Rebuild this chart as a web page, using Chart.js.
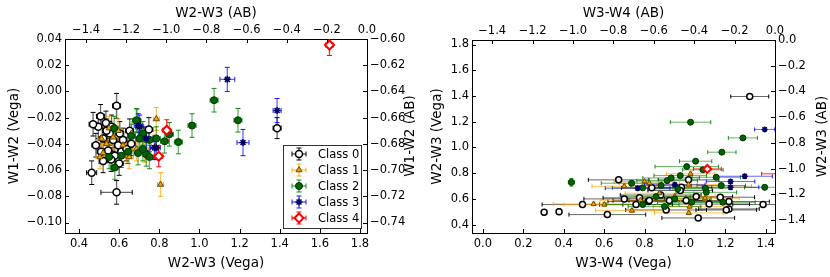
<!DOCTYPE html>
<html>
<head>
<meta charset="utf-8">
<script src="https://cdn.jsdelivr.net/npm/chart.js@4.4.1/dist/chart.umd.min.js"></script>
<style>
  html, body { margin: 0; padding: 0; background: #fff; }
  #wrap { position: relative; width: 830px; height: 277px; }
  #wrap canvas { position: absolute; top: 0; }
</style>
</head>
<body>
<div id="wrap">
  <canvas id="painelEsq" width="415" height="277" style="left:0"></canvas>
  <canvas id="painelDir" width="415" height="277" style="left:415px"></canvas>
</div>
<script>
// each point: [x, y, xerr, yerr]
const classNames = ['Class 0', 'Class 1', 'Class 2', 'Class 3', 'Class 4'];

// left panel: W2-W3 (Vega) vs W1-W2 (Vega)
const left0 = [
  [0.463, -0.062, 0.025, 0.009], [0.587, -0.077, 0.078, 0.009], [0.587, -0.011, 0.02, 0.0095],
  [0.507, -0.019, 0.02, 0.009], [0.484, -0.041, 0.02, 0.009], [0.520, -0.053, 0.02, 0.009],
  [0.496, -0.027, 0.02, 0.009], [0.534, -0.024, 0.02, 0.009], [0.748, -0.029, 0.02, 0.009],
  [1.387, -0.028, 0.02, 0.008], [0.553, -0.032, 0.02, 0.009], [0.570, -0.037, 0.02, 0.009],
  [0.595, -0.041, 0.02, 0.009], [0.611, -0.046, 0.02, 0.009], [0.578, -0.049, 0.02, 0.009],
  [0.545, -0.045, 0.02, 0.009], [0.619, -0.037, 0.02, 0.009], [0.636, -0.044, 0.02, 0.009],
  [0.603, -0.032, 0.02, 0.009], [0.537, -0.030, 0.02, 0.009], [0.562, -0.027, 0.02, 0.009],
  [0.652, -0.030, 0.02, 0.009], [0.470, -0.025, 0.02, 0.009], [0.520, -0.036, 0.02, 0.009],
  [0.600, -0.055, 0.02, 0.009], [0.560, -0.052, 0.02, 0.009], [0.660, -0.040, 0.02, 0.009],
  [0.510, -0.046, 0.02, 0.009]
];
const left1 = [
  [0.785, -0.021, 0.015, 0.0087], [0.806, -0.071, 0.015, 0.009], [0.512, -0.036, 0.02, 0.009],
  [0.537, -0.040, 0.02, 0.009], [0.570, -0.035, 0.02, 0.009], [0.595, -0.030, 0.02, 0.009],
  [0.619, -0.041, 0.02, 0.009], [0.686, -0.044, 0.02, 0.009], [0.710, -0.037, 0.02, 0.009],
  [0.636, -0.046, 0.02, 0.009], [0.520, -0.047, 0.02, 0.009], [0.661, -0.032, 0.02, 0.009],
  [0.727, -0.045, 0.02, 0.009], [0.504, -0.050, 0.02, 0.009], [0.550, -0.028, 0.02, 0.009],
  [0.650, -0.050, 0.02, 0.009], [0.780, -0.042, 0.02, 0.009]
];
const left2 = [
  [1.073, -0.0067, 0.02, 0.009], [1.192, -0.022, 0.02, 0.009], [0.963, -0.026, 0.02, 0.009],
  [0.895, -0.0386, 0.02, 0.009], [0.850, -0.0327, 0.02, 0.009], [0.578, -0.058, 0.02, 0.009],
  [0.689, -0.0225, 0.02, 0.009], [0.575, -0.028, 0.02, 0.009], [0.550, -0.050, 0.02, 0.009],
  [0.661, -0.034, 0.02, 0.009], [0.718, -0.032, 0.02, 0.009], [0.751, -0.037, 0.02, 0.009],
  [0.694, -0.047, 0.02, 0.009], [0.644, -0.046, 0.02, 0.009], [0.611, -0.049, 0.02, 0.009],
  [0.735, -0.048, 0.02, 0.009], [0.785, -0.036, 0.02, 0.009], [0.702, -0.036, 0.02, 0.009],
  [0.686, -0.022, 0.02, 0.009], [0.826, -0.038, 0.02, 0.009], [0.751, -0.050, 0.02, 0.009],
  [0.718, -0.044, 0.02, 0.009]
];
const left3 = [
  [1.139, 0.0092, 0.037, 0.0092], [1.387, -0.0146, 0.02, 0.0092], [1.217, -0.039, 0.03, 0.010],
  [0.695, -0.026, 0.02, 0.009], [0.785, -0.043, 0.02, 0.009], [0.776, -0.043, 0.02, 0.009],
  [0.735, -0.036, 0.02, 0.009], [0.702, -0.027, 0.02, 0.009]
];
const left4 = [
  [1.648, 0.0354, 0.02, 0.008], [0.837, -0.0296, 0.02, 0.008], [0.797, -0.0495, 0.02, 0.008]
];

// right panel: W3-W4 (Vega) vs W2-W3 (Vega)
const right0 = [
  [1.321, 1.396, 0.094, 0.012], [0.672, 0.748, 0.15, 0.015], [0.836, 0.686, 0.15, 0.015],
  [1.018, 0.748, 0.15, 0.015], [0.983, 0.690, 0.15, 0.015], [0.977, 0.665, 0.16, 0.015],
  [0.775, 0.608, 0.18, 0.015], [0.819, 0.579, 0.20, 0.015], [0.923, 0.587, 0.20, 0.015],
  [1.006, 0.587, 0.20, 0.015], [1.056, 0.618, 0.18, 0.015], [1.175, 0.613, 0.17, 0.015],
  [1.218, 0.579, 0.20, 0.015], [1.218, 0.522, 0.15, 0.015], [1.387, 0.556, 0.15, 0.015],
  [1.205, 0.514, 0.15, 0.015], [1.066, 0.452, 0.18, 0.015], [0.907, 0.514, 0.20, 0.015],
  [0.616, 0.478, 0.19, 0.015], [0.493, 0.556, 0.20, 0.015], [0.377, 0.501, 0.01, 0.02],
  [0.303, 0.496, 0.01, 0.02], [0.758, 0.556, 0.18, 0.015], [0.824, 0.587, 0.18, 0.015],
  [0.880, 0.630, 0.20, 0.015], [1.120, 0.560, 0.20, 0.015], [0.700, 0.600, 0.20, 0.015]
];
const right1 = [
  [0.700, 0.698, 0.16, 0.015], [0.800, 0.735, 0.15, 0.015], [0.824, 0.722, 0.15, 0.015],
  [1.028, 0.795, 0.12, 0.015], [1.018, 0.711, 0.15, 0.015], [0.874, 0.644, 0.17, 0.015],
  [1.099, 0.605, 0.17, 0.015], [1.019, 0.491, 0.17, 0.015], [0.738, 0.509, 0.18, 0.015],
  [0.548, 0.561, 0.20, 0.015], [0.601, 0.556, 0.20, 0.015], [1.180, 0.700, 0.15, 0.015],
  [1.023, 0.540, 0.18, 0.015], [0.780, 0.590, 0.20, 0.015], [0.950, 0.620, 0.20, 0.015]
];
const right2 = [
  [1.028, 1.196, 0.10, 0.012], [1.287, 1.074, 0.072, 0.012], [1.183, 0.963, 0.07, 0.012],
  [1.053, 0.893, 0.08, 0.012], [1.009, 0.851, 0.157, 0.012], [1.089, 0.826, 0.10, 0.012],
  [0.438, 0.729, 0.015, 0.03], [0.736, 0.722, 0.15, 0.015], [0.791, 0.686, 0.15, 0.015],
  [0.882, 0.704, 0.15, 0.015], [0.912, 0.742, 0.15, 0.015], [0.932, 0.763, 0.14, 0.015],
  [0.977, 0.781, 0.13, 0.015], [0.965, 0.678, 0.15, 0.015], [1.155, 0.768, 0.12, 0.015],
  [1.180, 0.704, 0.12, 0.015], [1.102, 0.683, 0.13, 0.015], [1.395, 0.690, 0.10, 0.015],
  [0.857, 0.618, 0.17, 0.015], [0.899, 0.540, 0.18, 0.015], [0.791, 0.556, 0.18, 0.015],
  [1.188, 0.574, 0.16, 0.015], [1.034, 0.574, 0.17, 0.015], [1.106, 0.651, 0.15, 0.015],
  [0.950, 0.600, 0.18, 0.015]
];
const right3 = [
  [1.395, 1.140, 0.05, 0.01], [0.766, 0.683, 0.16, 0.015], [1.296, 0.776, 0.137, 0.015],
  [1.226, 0.735, 0.12, 0.015], [1.226, 0.690, 0.14, 0.015], [0.950, 0.710, 0.15, 0.015]
];
const right4 = [
  [1.111, 0.833, 0.069, 0.015], [1.520, 0.795, 0.14, 0.015]
];

// tick values
const leftXTicks = [0.4, 0.6, 0.8, 1.0, 1.2, 1.4, 1.6, 1.8];
const leftYTicks = [0.04, 0.02, 0.00, -0.02, -0.04, -0.06, -0.08, -0.10];
const leftX2Ticks = [-1.4, -1.2, -1.0, -0.8, -0.6, -0.4, -0.2, 0.0];
const leftY2Ticks = [-0.60, -0.62, -0.64, -0.66, -0.68, -0.70, -0.72, -0.74];
const rightXTicks = [0.0, 0.2, 0.4, 0.6, 0.8, 1.0, 1.2, 1.4];
const rightYTicks = [1.8, 1.6, 1.4, 1.2, 1.0, 0.8, 0.6, 0.4];
const rightX2Ticks = [-1.4, -1.2, -1.0, -0.8, -0.6, -0.4, -0.2, 0.0];
const rightY2Ticks = [0.0, -0.2, -0.4, -0.6, -0.8, -1.0, -1.2, -1.4];

const estilos = [
  { pointStyle: 'circle', bg: '#ffffff', border: '#000000', bw: 1.5, err: 'rgba(0,0,0,0.6)', cap: '#000' },
  { pointStyle: 'triangle', bg: '#f0a000', border: '#6b4a00', bw: 1, err: 'rgba(255,165,0,0.65)', cap: 'rgba(255,165,0,0.9)' },
  { pointStyle: 'circle', bg: '#006400', border: '#003300', bw: 1, err: 'rgba(0,128,0,0.6)', cap: 'rgba(0,128,0,0.9)' },
  { pointStyle: 'star', bg: '#0000aa', border: '#000060', bw: 1.5, err: 'rgba(0,0,255,0.6)', cap: 'rgba(0,0,255,0.9)' },
  { pointStyle: 'rectRot', bg: '#ffffff', border: '#ff0000', bw: 2, err: 'rgba(255,0,0,0.8)', cap: '#ff0000' }
];

Chart.defaults.font.family = "'DejaVu Sans', sans-serif";
Chart.defaults.font.size = 11.5;
Chart.defaults.color = '#000';

const fmt = d => v => {
  const s = Number(v).toFixed(d);
  return s.startsWith('-') ? '\u2212' + s.slice(1) : s;
};

// matplotlib-style inward tick marks
const ticksDentro = {
  id: 'ticksDentro',
  afterDraw(chart) {
    const { ctx, chartArea: a } = chart;
    ctx.save();
    ctx.strokeStyle = '#000';
    ctx.lineWidth = 1;
    Object.values(chart.scales).forEach(s => {
      s.ticks.forEach(t => {
        const p = Math.round(s.getPixelForValue(t.value)) + 0.5;
        ctx.beginPath();
        if (s.position === 'bottom') { ctx.moveTo(p, a.bottom); ctx.lineTo(p, a.bottom - 4); }
        if (s.position === 'top') { ctx.moveTo(p, a.top); ctx.lineTo(p, a.top + 4); }
        if (s.position === 'left') { ctx.moveTo(a.left, p); ctx.lineTo(a.left + 4, p); }
        if (s.position === 'right') { ctx.moveTo(a.right, p); ctx.lineTo(a.right - 4, p); }
        ctx.stroke();
      });
    });
    // right-hand titles read bottom-to-top like matplotlib
    const y2 = chart.scales.y2;
    const txt = y2.options.tituloDir;
    ctx.font = "13.5px 'DejaVu Sans', sans-serif";
    ctx.fillStyle = '#000';
    ctx.textAlign = 'center';
    ctx.textBaseline = 'middle';
    ctx.translate(chart.options.tituloDirX, (a.top + a.bottom) / 2);
    ctx.rotate(-Math.PI / 2);
    ctx.fillText(txt, 0, 0);
    ctx.restore();
  }
};

const barrasErro = {
  id: 'barrasErro',
  beforeDatasetsDraw(chart) {
    const { ctx, chartArea: a, scales } = chart;
    const lw = chart.options.errLW, cap = chart.options.capLen;
    ctx.save();
    ctx.beginPath();
    ctx.rect(a.left, a.top, a.right - a.left, a.bottom - a.top);
    ctx.clip();
    chart.data.datasets.forEach(ds => {
      ds.data.forEach(p => {
        const x = scales.x.getPixelForValue(p.x), y = scales.y.getPixelForValue(p.y);
        const x0 = scales.x.getPixelForValue(p.x - p.xe), x1 = scales.x.getPixelForValue(p.x + p.xe);
        const y0 = scales.y.getPixelForValue(p.y - p.ye), y1 = scales.y.getPixelForValue(p.y + p.ye);
        ctx.lineWidth = lw;
        ctx.strokeStyle = ds.errColor;
        ctx.beginPath();
        ctx.moveTo(x0, y); ctx.lineTo(x1, y);
        ctx.moveTo(x, y0); ctx.lineTo(x, y1);
        ctx.stroke();
        ctx.lineWidth = 1;
        ctx.strokeStyle = ds.capColor;
        ctx.beginPath();
        ctx.moveTo(x0, y - cap); ctx.lineTo(x0, y + cap);
        ctx.moveTo(x1, y - cap); ctx.lineTo(x1, y + cap);
        ctx.moveTo(x - cap, y0); ctx.lineTo(x + cap, y0);
        ctx.moveTo(x - cap, y1); ctx.lineTo(x + cap, y1);
        ctx.stroke();
      });
    });
    ctx.restore();
  }
};

const legendaDentro = {
  id: 'legendaDentro',
  afterDraw(chart) {
    if (!chart.options.legendaBox) return;
    const { ctx, chartArea: a } = chart;
    const bx = a.right - 84, by = a.bottom - 88, bw = 78, bh = 83;
    ctx.save();
    ctx.fillStyle = '#fff';
    ctx.fillRect(bx, by, bw, bh);
    ctx.strokeStyle = '#333';
    ctx.lineWidth = 1;
    ctx.strokeRect(bx + 0.5, by + 0.5, bw, bh);
    chart.data.datasets.forEach((ds, i) => {
      const cx = bx + 16, cy = by + 9 + i * 16;
      ctx.strokeStyle = ds.errColor;
      ctx.lineWidth = 1.5;
      ctx.beginPath();
      ctx.moveTo(cx - 7, cy); ctx.lineTo(cx + 7, cy);
      ctx.moveTo(cx, cy - 6); ctx.lineTo(cx, cy + 6);
      ctx.stroke();
      ctx.strokeStyle = ds.capColor;
      ctx.lineWidth = 1;
      ctx.beginPath();
      ctx.moveTo(cx - 7, cy - 2.5); ctx.lineTo(cx - 7, cy + 2.5);
      ctx.moveTo(cx + 7, cy - 2.5); ctx.lineTo(cx + 7, cy + 2.5);
      ctx.moveTo(cx - 2.5, cy - 6); ctx.lineTo(cx + 2.5, cy - 6);
      ctx.moveTo(cx - 2.5, cy + 6); ctx.lineTo(cx + 2.5, cy + 6);
      ctx.stroke();
      ctx.fillStyle = ds.backgroundColor;
      ctx.strokeStyle = ds.borderColor;
      ctx.lineWidth = ds.borderWidth;
      Chart.helpers.drawPoint(ctx, { pointStyle: ds.pointStyle, radius: ds.pointRadius, borderWidth: ds.borderWidth, rotation: 0 }, cx, cy);
      ctx.fillStyle = '#000';
      ctx.font = "11.5px 'DejaVu Sans', sans-serif";
      ctx.textAlign = 'left';
      ctx.textBaseline = 'middle';
      ctx.fillText(ds.label, bx + 35, cy + 1);
    });
    ctx.restore();
  }
};

function montarDatasets(grupos, raio) {
  return grupos.map((pts, i) => ({
    label: classNames[i],
    data: pts.map(p => ({ x: p[0], y: p[1], xe: p[2], ye: p[3] })),
    pointStyle: estilos[i].pointStyle,
    backgroundColor: estilos[i].bg,
    borderColor: estilos[i].border,
    borderWidth: estilos[i].bw,
    pointRadius: i === 4 ? raio + 1 : raio,
    errColor: estilos[i].err,
    capColor: estilos[i].cap,
    order: 4 - i
  }));
}

function eixo(pos, min, max, ticks, dec, caixa, titulo, pad) {
  const horiz = pos === 'top' || pos === 'bottom';
  return {
    type: 'linear',
    position: pos,
    min: min,
    max: max,
    border: { color: '#000', width: 1 },
    grid: { display: true, drawOnChartArea: false, drawTicks: false, color: 'rgba(0,0,0,0)' },
    ticks: { autoSkip: false, maxRotation: 0, padding: pos === 'top' ? 2 : (horiz ? 4 : 3), callback: fmt(dec) },
    afterBuildTicks: s => { s.ticks = ticks.map(v => ({ value: v })); },
    afterFit: s => { if (horiz) s.height = caixa; else s.width = caixa; },
    title: titulo ? { display: true, text: titulo, font: { size: 13.5 }, padding: pad } : { display: false }
  };
}

new Chart(document.getElementById('painelEsq'), {
  type: 'scatter',
  data: { datasets: montarDatasets([left0, left1, left2, left3, left4], 3.5) },
  options: {
    responsive: false,
    animation: false,
    errLW: 1.3,
    capLen: 2.5,
    legendaBox: true,
    tituloDirX: 410,
    layout: { padding: 0 },
    plugins: { legend: { display: false }, tooltip: { enabled: false } },
    scales: {
      x: eixo('bottom', 0.33, 1.835, leftXTicks, 1, 44, 'W2-W3 (Vega)', { top: 0, bottom: 5 }),
      x2: eixo('top', 0.33 - 1.835, 0, leftX2Ticks, 1, 39, 'W2-W3 (AB)', { top: 5, bottom: 0 }),
      y: eixo('left', -0.108, 0.04, leftYTicks, 2, 65, 'W1-W2 (Vega)', { top: 6, bottom: 0 }),
      y2: Object.assign(eixo('right', -0.748, -0.60, leftY2Ticks, 2, 48, null), { tituloDir: 'W1-W2 (AB)' })
    }
  },
  plugins: [barrasErro, ticksDentro, legendaDentro]
});

new Chart(document.getElementById('painelDir'), {
  type: 'scatter',
  data: { datasets: montarDatasets([right0, right1, right2, right3, right4], 3) },
  options: {
    responsive: false,
    animation: false,
    errLW: 1,
    capLen: 2,
    legendaBox: false,
    tituloDirX: 407,
    layout: { padding: 0 },
    plugins: { legend: { display: false }, tooltip: { enabled: false } },
    scales: {
      x: eixo('bottom', -0.054, 1.446, rightXTicks, 1, 44, 'W3-W4 (Vega)', { top: 0, bottom: 5 }),
      x2: eixo('top', -1.5, 0, rightX2Ticks, 1, 40, 'W3-W4 (AB)', { top: 5, bottom: 0 }),
      y: eixo('left', 0.335, 1.835, rightYTicks, 1, 57, 'W2-W3 (Vega)', { top: 14, bottom: 0 }),
      y2: Object.assign(eixo('right', -1.5, 0, rightY2Ticks, 1, 55, null), { tituloDir: 'W2-W3 (AB)' })
    }
  },
  plugins: [barrasErro, ticksDentro, legendaDentro]
});
</script>
</body>
</html>
